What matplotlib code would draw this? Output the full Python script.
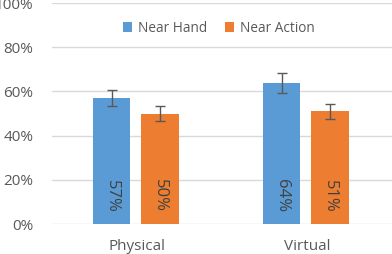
import numpy as np
import matplotlib.pyplot as plt

categories = ["Physical", "Virtual"]
series = ["Near Hand", "Near Action"]
near_hand = [0.57, 0.64]
near_action = [0.50, 0.51]
near_hand_err = [0.035, 0.045]
near_action_err = [0.032, 0.034]
labels_hand = ["57%", "64%"]
labels_action = ["50%", "51%"]
yticks = [0, 0.2, 0.4, 0.6, 0.8, 1.0]
ytick_labels = ["0%", "20%", "40%", "60%", "80%", "100%"]

plt.rcParams['font.family'] = ['Open Sans', 'DejaVu Sans']

fig = plt.figure(figsize=(3.92, 2.54), dpi=100)
ax = fig.add_axes([0.1327, 0.118, 0.8673, 0.870])

x = np.arange(len(categories))
w = 0.22
blue = "#5B9BD5"
orange = "#ED7D31"
txt = "#595959"

ax.bar(x - 0.15, near_hand, w, color=blue, label=series[0], zorder=2,
       yerr=near_hand_err, error_kw=dict(ecolor=txt, elinewidth=1, capsize=3.5, capthick=1))
ax.bar(x + 0.135, near_action, w, color=orange, label=series[1], zorder=2,
       yerr=near_action_err, error_kw=dict(ecolor=txt, elinewidth=1, capsize=3.5, capthick=1))

for i in range(len(categories)):
    ax.text(x[i] - 0.15, 0.127, labels_hand[i], rotation=-90, ha="center", va="center",
            fontsize=12, color="#404040", zorder=3)
    ax.text(x[i] + 0.135, 0.127, labels_action[i], rotation=-90, ha="center", va="center",
            fontsize=12, color="#404040", zorder=3)

ax.set_xlim(-0.5, 1.5)
ax.set_ylim(0, 1.0)
ax.set_yticks(yticks)
ax.set_yticklabels(ytick_labels)
ax.set_xticks(x)
ax.set_xticklabels(categories)
ax.tick_params(axis="both", length=0, colors=txt, labelsize=11)
ax.tick_params(axis="y", pad=13.5)
ax.tick_params(axis="x", pad=11)
ax.grid(axis="y", color="#D9D9D9", linewidth=1, zorder=0)
for s in ax.spines.values():
    s.set_visible(False)

leg = ax.legend(loc="upper center", bbox_to_anchor=(0.49, 0.975), ncol=2, frameon=False,
                fontsize=9.8, handlelength=0.7, handleheight=0.7, handletextpad=0.4,
                columnspacing=1.3)
for t in leg.get_texts():
    t.set_color(txt)

fig.savefig("out.png", dpi=100)
